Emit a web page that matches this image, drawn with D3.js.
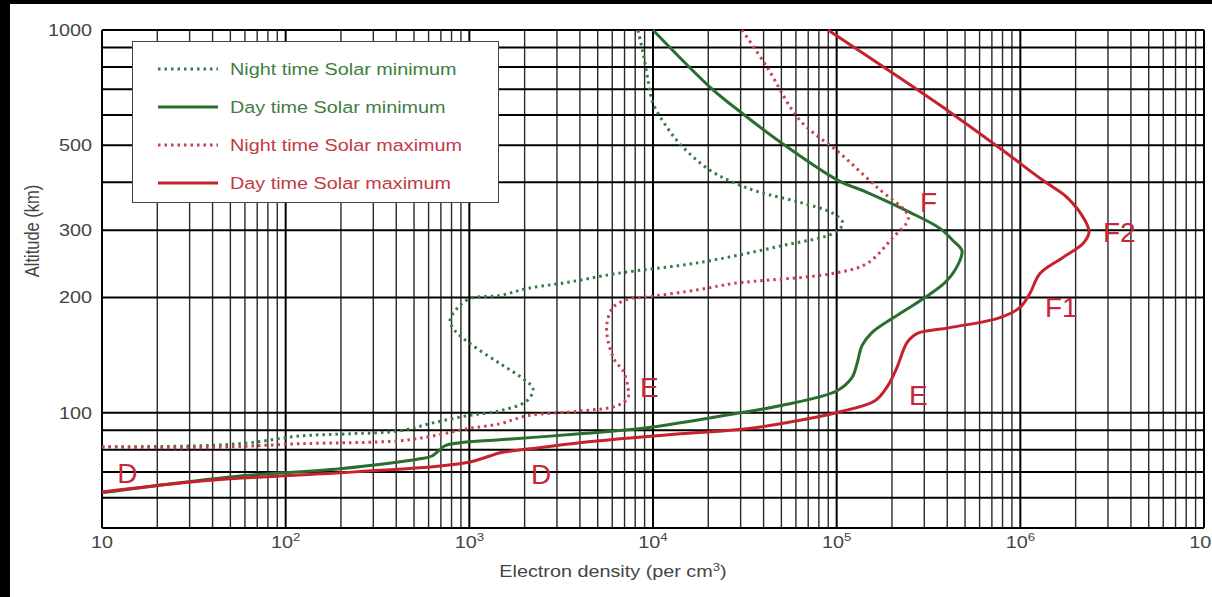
<!DOCTYPE html>
<html>
<head>
<meta charset="utf-8">
<title>Electron density profiles</title>
<script src="https://cdn.jsdelivr.net/npm/d3@7"></script>
<style>
  body { margin: 0; background: #000; }
  svg { display: block; }
  text { font-family: "Liberation Sans", Arial, sans-serif; }
</style>
</head>
<body>
<div id="chart"></div>
<script>
// axis ticks
const yTickValues = [100, 200, 300, 500, 1000];
const yGridValues = [50, 60, 70, 80, 90, 100, 200, 300, 400, 500, 600, 700, 800, 900, 1000];
const xDecades = [1, 2, 3, 4, 5, 6, 7];

// profiles: electron density (per cm3) vs altitude (km)
const nightMinDensity = [10, 34.2, 64, 120, 224, 419, 634, 970, 1469, 2061, 2222, 1960, 1469, 1009, 835, 785, 867, 1009, 1469, 2061, 3404, 6368, 18030, 51050, 95500, 108200, 95500, 63100, 38300, 27290, 20420, 14560, 11910, 10000, 9397, 8830, 8279];
const nightMinAltitude = [81.5, 82, 83.5, 87, 88.1, 89.7, 94.1, 98.2, 101.2, 107.5, 115.6, 122.8, 134.4, 151.6, 163.9, 174.1, 188.4, 198.8, 202.5, 211.2, 219, 231.2, 247, 273.6, 294.2, 312.5, 331.9, 354.6, 376.7, 400, 430, 494, 557, 644, 740, 870.7, 1000];

const dayMinDensity = [10, 49.8, 198, 538, 626, 737, 889, 1469, 4000, 9270, 29790, 49100, 100500, 121100, 129100, 137400, 155600, 221300, 302700, 399000, 468800, 480800, 429500, 364800, 250600, 146200, 101600, 50350, 30550, 20420, 10000];
const dayMinAltitude = [61.8, 68, 71.4, 75.8, 77.1, 82, 83.5, 85, 88.1, 91.4, 100, 104.3, 114.2, 123.5, 134.4, 149.8, 162, 181.6, 200, 221.6, 250, 265.5, 282, 303.2, 333.9, 376.7, 404.8, 506, 606, 709.5, 1000];

const nightMaxDensity = [10, 34.2, 120, 419, 634, 970, 1469, 2061, 4159, 6368, 7311, 7311, 6871, 6209, 5689, 5613, 6053, 7499, 8830, 18030, 27290, 95500, 146200, 202800, 244300, 241500, 166000, 104200, 63100, 41780, 30550];
const nightMaxAltitude = [81.5, 81, 83, 84.5, 87, 90.8, 93.6, 98.2, 101.2, 104.3, 109.5, 116.3, 128.8, 136.8, 154.3, 171, 188.4, 198.9, 200.2, 210, 217.6, 231.2, 245.5, 287.2, 318, 331.9, 388.2, 476.5, 581, 800, 1000];

const dayMaxDensity = [10, 27.6, 49.8, 198, 538, 692, 1009, 1296, 1469, 2138, 4000, 14030, 32510, 74300, 104200, 161800, 190100, 212800, 241500, 273500, 414000, 774500, 995000, 1127000, 1279000, 1706000, 2193000, 2366000, 2249000, 1795000, 1327000, 774500, 414000, 221300, 89740];
const dayMaxAltitude = [62.1, 65.6, 67.2, 69.7, 71.8, 72.6, 74.4, 77.1, 78.6, 80.5, 83.5, 88.1, 90.8, 97, 100.6, 107.5, 117.7, 131.2, 152.5, 161, 166.9, 177.3, 188.4, 205, 231.2, 254.5, 276.9, 296, 318, 365.5, 404.8, 491, 610, 748.8, 1000];

const seriesNames = ["Night time Solar minimum", "Day time Solar minimum", "Night time Solar maximum", "Day time Solar maximum"];

// layer labels (D, E, F...) placed at density / altitude
const layerNames = ["D", "D", "E", "E", "F", "F1", "F2"];
const layerDensity = [12.1, 2166, 8490, 247700, 284400, 1361000, 2818000];
const layerAltitude = [65.6, 65.2, 110.1, 104.9, 333.9, 178.4, 278.6];

const width = 1212, height = 597;
const margin = { top: 30, right: 8, bottom: 69, left: 102 };
const stretch = 1.2;  // the original lettering is wide

const svg = d3.select("#chart").append("svg")
    .attr("width", width)
    .attr("height", height);

svg.append("rect").attr("x", 10).attr("y", 4)
    .attr("width", width).attr("height", height).attr("fill", "#fff");

const x = d3.scaleLog().domain([10, 1e7]).range([margin.left, width - margin.right]);
const y = d3.scaleLog().domain([50, 1000]).range([height - margin.bottom, margin.top]);

// vertical grid: 1..9 x each decade
const xGrid = [];
xDecades.slice(0, -1).forEach(k => {
    for (let m = 1; m <= 9; m++) xGrid.push(m * Math.pow(10, k));
});
xGrid.push(1e7);

const grid = svg.append("g");
grid.selectAll(".vx").data(xGrid).join("line")
    .attr("x1", d => x(d)).attr("x2", d => x(d))
    .attr("y1", y(1000)).attr("y2", y(50))
    .attr("stroke", (d, i) => i % 9 === 0 || d === 1e7 ? "#000" : "#2a2a2a")
    .attr("stroke-width", (d, i) => i % 9 === 0 || d === 1e7 ? 2 : 1.4);

grid.selectAll(".hy").data(yGridValues).join("line")
    .attr("x1", x(10)).attr("x2", x(1e7))
    .attr("y1", d => y(d)).attr("y2", d => y(d))
    .attr("stroke", "#000")
    .attr("stroke-width", 2);

// tick labels
svg.append("g").selectAll("text").data(yTickValues).join("text")
    .attr("transform", d => `translate(92,${y(d)}) scale(${stretch},1)`)
    .attr("text-anchor", "end")
    .attr("dy", "0.36em")
    .attr("fill", "#444")
    .style("font-size", "16.5px")
    .text(d => d);

const xl = svg.append("g").selectAll("text").data(xDecades).join("text")
    .attr("transform", d => `translate(${x(Math.pow(10, d))},548) scale(${stretch},1)`)
    .attr("text-anchor", "middle")
    .attr("fill", "#444")
    .style("font-size", "16.5px");
xl.append("tspan").text("10");
xl.filter(d => d > 1).append("tspan")
    .attr("dy", -7)
    .style("font-size", "11px")
    .text(d => d);

// axis titles
const xt = svg.append("text")
    .attr("transform", `translate(613,577) scale(${stretch},1)`)
    .attr("text-anchor", "middle")
    .attr("fill", "#444")
    .style("font-size", "16.5px");
xt.append("tspan").text("Electron density (per cm");
xt.append("tspan").attr("dy", -6).style("font-size", "11px").text("3");
xt.append("tspan").attr("dy", 6).text(")");

svg.append("text")
    .attr("transform", `translate(39,231) scale(${stretch},1) rotate(-90)`)
    .attr("text-anchor", "middle")
    .attr("fill", "#444")
    .style("font-size", "16.5px")
    .text("Altitude (km)");

// legend box hides the grid behind it
const legend = svg.append("g");
legend.append("rect")
    .attr("x", 132.5).attr("y", 41.5)
    .attr("width", 366).attr("height", 161)
    .attr("fill", "#fff").attr("stroke", "#444").attr("stroke-width", 1);

const styles = [
    { stroke: "#3b7a44", text: "#3e7e3e", dash: "2.5 4" },
    { stroke: "#2a6e2f", text: "#3e7e3e", dash: null },
    { stroke: "#c9404f", text: "#c23a44", dash: "2.5 4" },
    { stroke: "#c8202f", text: "#c23a44", dash: null }
];

seriesNames.forEach((name, i) => {
    const ly = 69 + i * 38;
    legend.append("line")
        .attr("x1", 158).attr("x2", 218).attr("y1", ly).attr("y2", ly)
        .attr("stroke", styles[i].stroke)
        .attr("stroke-width", 3)
        .attr("stroke-dasharray", styles[i].dash);
    legend.append("text")
        .attr("transform", `translate(230,${ly}) scale(${stretch},1)`)
        .attr("dy", "0.36em")
        .attr("fill", styles[i].text)
        .style("font-size", "16.5px")
        .text(name);
});

// profiles
const line = d3.line()
    .x(d => x(d[0]))
    .y(d => y(d[1]))
    .curve(d3.curveCatmullRom.alpha(0.5));

const profiles = [
    [nightMinDensity, nightMinAltitude],
    [dayMinDensity, dayMinAltitude],
    [nightMaxDensity, nightMaxAltitude],
    [dayMaxDensity, dayMaxAltitude]
];

profiles.forEach((p, i) => {
    const pts = p[0].map((d, j) => [d, p[1][j]]);
    svg.append("path")
        .datum(pts)
        .attr("fill", "none")
        .attr("stroke", styles[i].stroke)
        .attr("stroke-width", 3)
        .attr("stroke-dasharray", styles[i].dash)
        .attr("d", line);
});

// layer labels
svg.append("g").selectAll("text").data(layerNames).join("text")
    .attr("x", (d, i) => x(layerDensity[i]))
    .attr("y", (d, i) => y(layerAltitude[i]))
    .attr("fill", "#c4283a")
    .style("font-size", "28px")
    .text(d => d);
</script>
</body>
</html>
